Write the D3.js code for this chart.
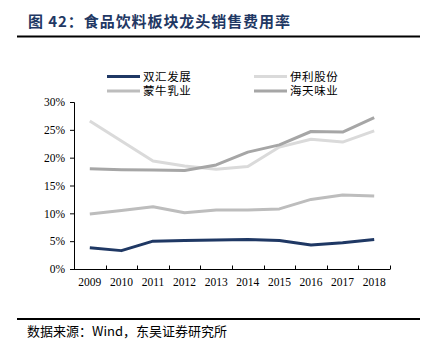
<!DOCTYPE html>
<html><head><meta charset="utf-8">
<script src="https://cdn.jsdelivr.net/npm/d3@7"></script>
<style>body{margin:0;background:#fff}svg{display:block}</style>
</head><body>
<svg id="c" width="428" height="356"></svg>
<script>
const years = ["2009","2010","2011","2012","2013","2014","2015","2016","2017","2018"];
const shuanghui = [3.8,3.3,5.0,5.1,5.2,5.3,5.1,4.3,4.7,5.3];
const yili = [26.6,23.0,19.4,18.5,17.9,18.4,21.9,23.3,22.8,24.8];
const mengniu = [9.9,10.5,11.2,10.1,10.6,10.6,10.8,12.5,13.3,13.1];
const haitian = [18.0,17.85,17.8,17.7,18.7,21.0,22.3,24.7,24.6,27.2];
const yTicks = [0,5,10,15,20,25,30];
const seriesNames = ["双汇发展","伊利股份","蒙牛乳业","海天味业"];
const seriesColors = ["#1f3864","#dadada","#bdbdbd","#a6a6a6"];
const seriesData = [shuanghui, yili, mengniu, haitian];
const drawOrder = [2,1,3,0];

const svg = d3.select("#c");
const serif = "'Liberation Serif','Times New Roman',serif";
const cjk = "'Noto Sans CJK SC','Noto Sans',sans-serif";

// Title
svg.append("text").attr("x",28).attr("y",27)
  .attr("font-family",cjk).attr("font-weight","bold").attr("font-size",15)
  .attr("fill","#1f3864").attr("textLength",262).attr("lengthAdjust","spacing")
  .text("图 42：食品饮料板块龙头销售费用率");
svg.append("line").attr("x1",17).attr("x2",420).attr("y1",36.5).attr("y2",36.5)
  .attr("stroke","#000").attr("stroke-width",2);

const x = d3.scaleBand().domain(years).range([74,390]);
const y = d3.scaleLinear().domain([0,30]).range([269,102]);

// y axis
const yAxis = d3.axisLeft(y).tickValues(yTicks).tickSize(4).tickFormat(d=>d+"%");
const gy = svg.append("g").attr("transform","translate(74,0)").call(yAxis);
gy.select(".domain").attr("stroke","#000").attr("d","M-4,102.5H0.5V269.5");
gy.selectAll(".tick line").attr("stroke","#000");
gy.selectAll(".tick text").attr("font-family",serif).attr("font-size",11.5).attr("fill","#000").attr("x",-9);

// x axis
const xAxis = d3.axisBottom(x).tickSize(0);
const gx = svg.append("g").attr("transform","translate(0,269.5)").call(xAxis);
gx.select(".domain").attr("stroke","#000").attr("d","M74,0H390");
gx.selectAll(".tick text").attr("font-family",serif).attr("font-size",11.5).attr("fill","#000").attr("dy","1.05em").attr("y",4);
// band boundary ticks
svg.append("g").selectAll("line").data(years).join("line")
  .attr("x1",d=>Math.round(x(d)+x.bandwidth())+0.5)
  .attr("x2",d=>Math.round(x(d)+x.bandwidth())+0.5)
  .attr("y1",265.5).attr("y2",269.5).attr("stroke","#000");

const line = d3.line().x((d,i)=>x(years[i])+x.bandwidth()/2).y(d=>y(d));
drawOrder.forEach(k=>{
  svg.append("path").attr("d",line(seriesData[k])).attr("fill","none")
    .attr("stroke",seriesColors[k]).attr("stroke-width",3).attr("stroke-linejoin","round");
});

// legend
const legPos = [[107,76.5],[254,76.5],[107,91],[254,91]];
seriesNames.forEach((n,k)=>{
  const [lx,ly] = legPos[k];
  svg.append("line").attr("x1",lx).attr("x2",lx+33).attr("y1",ly).attr("y2",ly)
    .attr("stroke",seriesColors[k]).attr("stroke-width",3);
  svg.append("text").attr("x",lx+36).attr("y",ly+4).attr("font-family",cjk)
    .attr("font-size",11.5).attr("letter-spacing",0.6).attr("fill","#000").text(n);
});

// bottom rule and source
svg.append("line").attr("x1",17).attr("x2",420).attr("y1",319).attr("y2",319)
  .attr("stroke","#000").attr("stroke-width",2);
svg.append("text").attr("x",27).attr("y",335.5).attr("font-family",cjk)
  .attr("font-size",13).attr("fill","#000").text("数据来源：Wind，东吴证券研究所");
</script>
</body></html>
